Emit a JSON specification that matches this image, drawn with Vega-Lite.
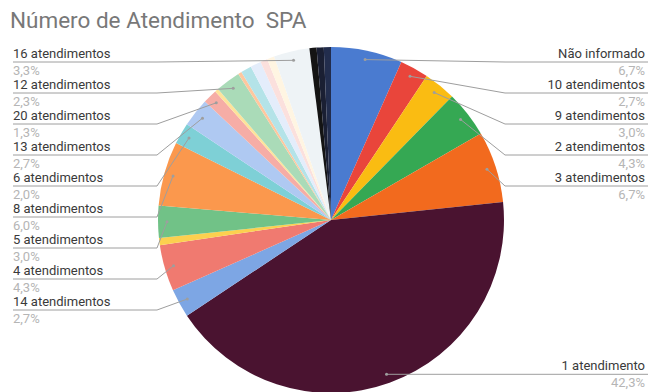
{
  "$schema": "https://vega.github.io/schema/vega-lite/v6.json",
  "width": 650,
  "height": 356,
  "autosize": {"type": "none"},
  "padding": {"left": 0, "top": 36, "right": 0, "bottom": 0},
  "background": "white",
  "config": {"view": {"stroke": null}},
  "title": {
    "text": "Número de Atendimento\u00a0 SPA",
    "anchor": "start",
    "frame": "group",
    "dx": 10,
    "dy": 22,
    "offset": 8,
    "baseline": "alphabetic",
    "font": "Roboto",
    "fontSize": 22.5,
    "fontWeight": "normal",
    "color": "#787878"
  },
  "data": {
    "values": [
      {"label": "Não informado", "count": 20},
      {"label": "10 atendimentos", "count": 8},
      {"label": "9 atendimentos", "count": 9},
      {"label": "2 atendimentos", "count": 13},
      {"label": "3 atendimentos", "count": 20},
      {"label": "1 atendimento", "count": 127},
      {"label": "14 atendimentos", "count": 8},
      {"label": "4 atendimentos", "count": 13},
      {"label": "7 atendimentos", "count": 2},
      {"label": "5 atendimentos", "count": 9},
      {"label": "8 atendimentos", "count": 18},
      {"label": "6 atendimentos", "count": 6},
      {"label": "13 atendimentos", "count": 8},
      {"label": "20 atendimentos", "count": 4},
      {"label": "11 atendimentos", "count": 1},
      {"label": "12 atendimentos", "count": 7},
      {"label": "15 atendimentos", "count": 1},
      {"label": "17 atendimentos", "count": 3},
      {"label": "18 atendimentos", "count": 3},
      {"label": "19 atendimentos", "count": 2},
      {"label": "21 atendimentos", "count": 2},
      {"label": "16 atendimentos", "count": 10},
      {"label": "22 atendimentos", "count": 2},
      {"label": "24 atendimentos", "count": 2},
      {"label": "30 atendimentos", "count": 2}
    ]
  },
  "transform": [
    {"window": [{"op": "row_number", "as": "idx"}]},
    {"joinaggregate": [{"op": "sum", "field": "count", "as": "total"}]},
    {"window": [{"op": "sum", "field": "count", "as": "cum"}], "sort": [{"field": "idx"}], "frame": [null, 0]},
    {"calculate": "(datum.cum - datum.count / 2) / datum.total * 2 * PI", "as": "ang"},
    {"calculate": "164 * sin(datum.ang)", "as": "px"},
    {"calculate": "-164 * cos(datum.ang)", "as": "py"},
    {"calculate": "datum.ang < PI ? 1 : -1", "as": "side"},
    {"calculate": "replace(format(datum.count / datum.total * 100, '.1f'), '.', ',') + '%'", "as": "pct"}
  ],
  "layer": [
    {
      "mark": {"type": "arc", "outerRadius": 173},
      "encoding": {
        "theta": {"field": "count", "type": "quantitative", "stack": true},
        "order": {"field": "idx", "type": "quantitative"},
        "color": {
          "field": "label",
          "type": "nominal",
          "legend": null,
          "scale": {
            "domain": ["Não informado", "10 atendimentos", "9 atendimentos", "2 atendimentos", "3 atendimentos", "1 atendimento", "14 atendimentos", "4 atendimentos", "7 atendimentos", "5 atendimentos", "8 atendimentos", "6 atendimentos", "13 atendimentos", "20 atendimentos", "11 atendimentos", "12 atendimentos", "15 atendimentos", "17 atendimentos", "18 atendimentos", "19 atendimentos", "21 atendimentos", "16 atendimentos", "22 atendimentos", "24 atendimentos", "30 atendimentos"],
            "range": ["#4A7BD0", "#E9453B", "#FABC12", "#35A853", "#F26A1E", "#4A1330", "#7DA6E4", "#F07A70", "#FCD04F", "#71C287", "#FB984D", "#7ED0D6", "#AFC9F2", "#F6ADA6", "#FDE39A", "#AADBB8", "#FFC79E", "#B4E3E8", "#E4EDFB", "#FBE0DD", "#FFF5E2", "#EEF3F6", "#141414", "#1A1F33", "#222D4D"]
          }
        },
        "x": {"datum": 0, "type": "quantitative", "scale": {"domain": [-331, 319], "nice": false, "zero": false}, "axis": null},
        "y": {"datum": 0, "type": "quantitative", "scale": {"domain": [-184, 172], "nice": false, "zero": false, "reverse": true}, "axis": null}
      }
    },
    {
      "transform": [
        {"filter": "datum.count >= 4"},
        {"calculate": "max(datum.py, -158)", "as": "ny"},
        {"window": [{"op": "row_number", "as": "rank"}], "groupby": ["side"], "sort": [{"field": "py"}]},
        {"calculate": "datum.ny - 31 * datum.rank", "as": "d"},
        {"window": [{"op": "max", "field": "d", "as": "dmax"}], "groupby": ["side"], "sort": [{"field": "py"}], "frame": [null, 0]},
        {"calculate": "datum.dmax + 31 * datum.rank", "as": "ly"},
        {"calculate": "datum.side > 0 ? 317 : -318", "as": "lx0"},
        {"calculate": "datum.side * 174", "as": "ex"},
        {"calculate": "datum.side > 0 ? 314 : -318", "as": "tx"}
      ],
      "layer": [
        {
          "mark": {"type": "rule", "color": "#9E9E9E", "strokeWidth": 1},
          "encoding": {
            "x": {"field": "lx0", "type": "quantitative", "scale": {"domain": [-331, 319], "nice": false, "zero": false}, "axis": null},
            "x2": {"field": "ex"},
            "y": {"field": "ly", "type": "quantitative", "scale": {"domain": [-184, 172], "nice": false, "zero": false, "reverse": true}, "axis": null}
          }
        },
        {
          "mark": {"type": "rule", "color": "#9E9E9E", "strokeWidth": 1},
          "encoding": {
            "x": {"field": "ex", "type": "quantitative"},
            "x2": {"field": "px"},
            "y": {"field": "ly", "type": "quantitative"},
            "y2": {"field": "py"}
          }
        },
        {
          "mark": {"type": "point", "filled": true, "size": 9, "color": "#9E9E9E", "opacity": 1},
          "encoding": {
            "x": {"field": "px", "type": "quantitative"},
            "y": {"field": "py", "type": "quantitative"}
          }
        },
        {
          "transform": [{"filter": "datum.side > 0"}],
          "mark": {"type": "text", "align": "right", "baseline": "alphabetic", "dy": -4, "font": "Roboto", "fontSize": 13, "color": "#3A3A3A"},
          "encoding": {
            "x": {"field": "tx", "type": "quantitative"},
            "y": {"field": "ly", "type": "quantitative"},
            "text": {"field": "label"}
          }
        },
        {
          "transform": [{"filter": "datum.side > 0"}],
          "mark": {"type": "text", "align": "right", "baseline": "alphabetic", "dy": 12.5, "font": "Roboto", "fontSize": 13, "color": "#B5B5B5"},
          "encoding": {
            "x": {"field": "tx", "type": "quantitative"},
            "y": {"field": "ly", "type": "quantitative"},
            "text": {"field": "pct"}
          }
        },
        {
          "transform": [{"filter": "datum.side < 0"}],
          "mark": {"type": "text", "align": "left", "baseline": "alphabetic", "dy": -4, "font": "Roboto", "fontSize": 13, "color": "#3A3A3A"},
          "encoding": {
            "x": {"field": "tx", "type": "quantitative"},
            "y": {"field": "ly", "type": "quantitative"},
            "text": {"field": "label"}
          }
        },
        {
          "transform": [{"filter": "datum.side < 0"}],
          "mark": {"type": "text", "align": "left", "baseline": "alphabetic", "dy": 12.5, "font": "Roboto", "fontSize": 13, "color": "#B5B5B5"},
          "encoding": {
            "x": {"field": "tx", "type": "quantitative"},
            "y": {"field": "ly", "type": "quantitative"},
            "text": {"field": "pct"}
          }
        }
      ]
    }
  ]
}
